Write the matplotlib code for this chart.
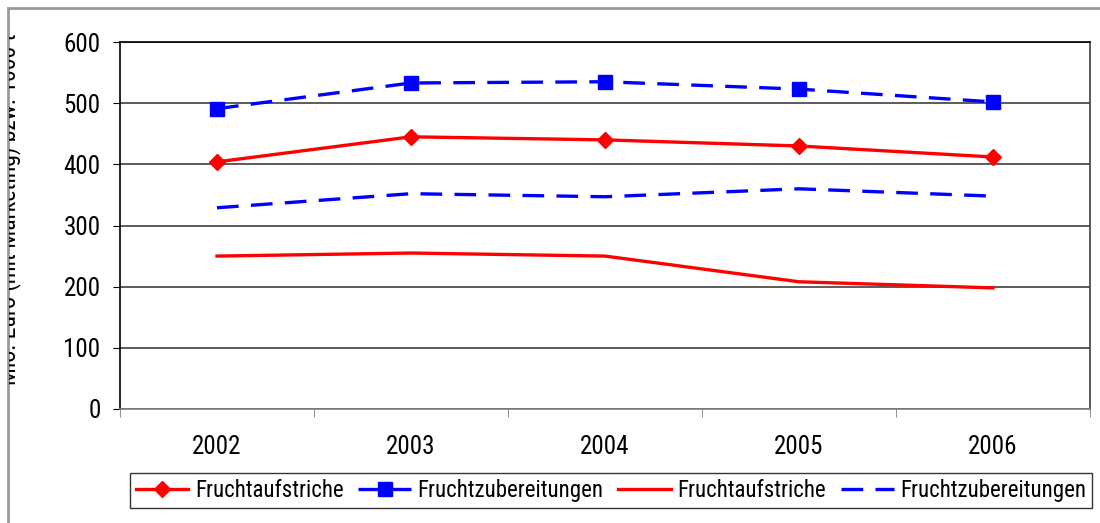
import numpy as np
import matplotlib.pyplot as plt
from matplotlib import font_manager as fm
from matplotlib.patches import Rectangle
from matplotlib.transforms import Bbox, TransformedBbox

# pick a narrow font if one is installed
names = {f.name for f in fm.fontManager.ttflist}
if 'Liberation Sans Narrow' in names:
    plt.rcParams['font.family'] = ['Liberation Sans Narrow', 'DejaVu Sans']
elif 'Roboto Condensed' in names:
    plt.rcParams['font.family'] = ['Roboto Condensed', 'DejaVu Sans']
else:
    plt.rcParams['font.family'] = ['DejaVu Sans']
    plt.rcParams['font.stretch'] = 'condensed'

# data
years = ['2002', '2003', '2004', '2005', '2006']
aufstriche_mark = [404, 445, 440, 430, 412]
zubereit_mark = [491, 533, 535, 523, 502]
aufstriche = [250, 255, 250, 208, 198]
zubereit = [329, 352, 347, 360, 348]

fig = plt.figure(figsize=(11, 5.23), dpi=100)
ax = fig.add_axes([120/1100, 1-409/523, 970/1100, 367/523])

dash = (0, (6.5, 3.7))
x = np.arange(len(years))
ax.plot(x, aufstriche_mark, color='#ff0000', lw=2.4, marker='D', ms=8.5, label='Fruchtaufstriche')
ax.plot(x, zubereit_mark, color='#0000ff', lw=2.4, ls=dash, marker='s', ms=9.5, label='Fruchtzubereitungen')
ax.plot(x, aufstriche, color='#ff0000', lw=2.4, label='Fruchtaufstriche')
ax.plot(x, zubereit, color='#0000ff', lw=2.4, ls=dash, label='Fruchtzubereitungen')

ax.set_xlim(-0.5, 4.5)
ax.set_ylim(0, 600)
ax.set_yticks(range(0, 601, 100))
ax.yaxis.grid(True, color='#404040', lw=1.2)
ax.set_axisbelow(True)
ax.set_xticks(x)
ax.set_xticklabels(years)
ax.set_xticks(np.arange(-0.5, 4.6, 1), minor=True)
ax.tick_params(axis='x', which='major', length=0, pad=19, labelsize=18)
ax.tick_params(axis='x', which='minor', length=6, direction='out', color='#808080')
ax.tick_params(axis='y', length=5, direction='out', labelsize=18, pad=9)
for s in ax.spines.values():
    s.set_color('black')
    s.set_linewidth(1.2)
ax.spines['bottom'].set_color('#808080')
ax.spines['right'].set_color('#404040')

# y label, cut off at the frame as in the reference
lab = fig.text(21/1100, 0.6, 'Mio. Euro (mit Marketing) bzw. 1000 t', rotation=90,
               ha='right', va='center', fontsize=17)
lab.set_clip_box(TransformedBbox(Bbox([[9/1100, 0], [1, 1 - 9/523]]), fig.transFigure))
lab.set_clip_on(True)

# outer frame
fig.patches.append(Rectangle((8/1100, -0.1), 1.2, 1-8/523+0.1, transform=fig.transFigure,
                             fill=False, ec='#999999', lw=2))

leg = fig.legend(loc='lower center', bbox_to_anchor=(611/1100, 4/523), ncol=4,
                 fontsize=16.5, frameon=True, fancybox=False, handlelength=2.3,
                 handletextpad=0.28, columnspacing=0.65, borderpad=0.25)
leg.get_frame().set_edgecolor('black')
leg.get_frame().set_linewidth(1)

fig.savefig('out.png', dpi=100)
